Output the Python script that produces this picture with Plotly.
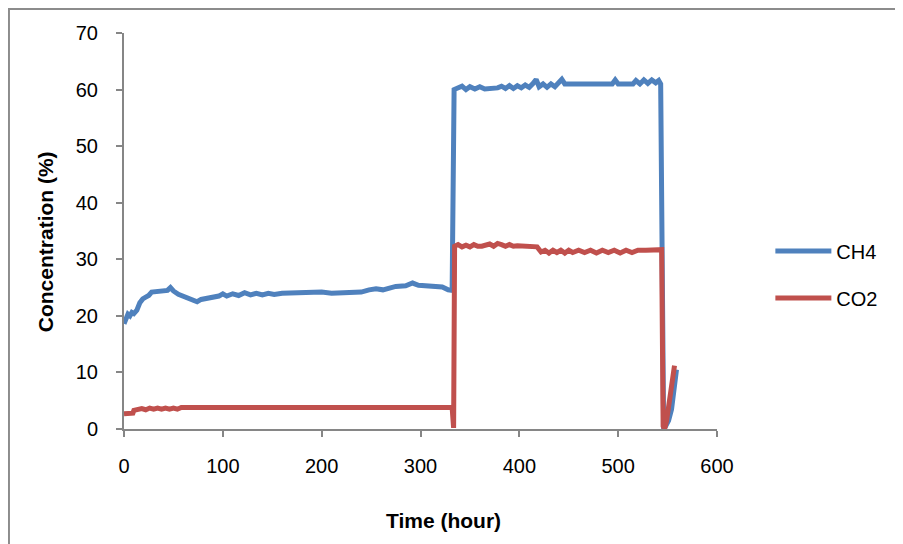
import plotly.graph_objects as go

# CH4 readings (time in hours, concentration in %)
ch4_time = [0, 2, 4, 6, 8, 10, 13, 16, 19, 22, 25, 28, 32, 36, 40, 44, 47, 50, 55, 60,
            65, 70, 74, 78, 84, 90, 96, 100, 104, 110, 116, 122, 128, 134, 140, 146, 152,
            160, 175, 190, 200, 210, 230, 240, 248, 255, 262, 268, 275, 285, 292, 298, 305,
            315, 322, 328, 332, 334, 338, 342, 346, 350, 355, 360, 365, 370, 378, 382, 386,
            390, 394, 398, 402, 406, 410, 414, 417, 420, 424, 428, 432, 436, 440, 443, 446,
            460, 480, 494, 497, 500, 515, 518, 522, 526, 530, 534, 538, 541, 543, 545, 546,
            548, 551, 554, 557, 559]
ch4_conc = [18.6, 19.5, 20.3, 20.0, 20.6, 20.4, 21.0, 22.3, 23.0, 23.3, 23.6, 24.2, 24.3,
            24.2, 24.4, 24.5, 25.0, 24.4, 23.8, 23.4, 23.0, 22.6, 22.5, 22.9, 23.1, 23.3,
            23.5, 23.9, 23.5, 23.9, 23.6, 24.1, 23.7, 24.0, 23.7, 24.0, 23.8, 24.0, 24.1,
            24.0, 24.2, 24.0, 24.0, 24.2, 24.6, 24.8, 24.6, 24.9, 25.2, 25.3, 25.8, 25.4,
            25.3, 25.3, 25.1, 24.6, 24.5, 60.0, 60.2, 60.6, 60.0, 60.5, 60.1, 60.5, 60.1,
            60.1, 60.3, 60.6, 60.2, 60.7, 60.2, 60.7, 60.3, 60.8, 60.4, 61.1, 61.8, 60.5,
            61.0, 60.4, 61.0, 60.5, 61.2, 61.8, 61.0, 61.0, 61.0, 61.0, 61.7, 61.0, 61.0,
            61.6, 61.0, 61.7, 61.1, 61.7, 61.2, 61.6, 61.0, 1.0, 0.3, 0.5, 1.5, 3.5, 8.0, 10.5]

# CO2 readings
co2_time = [0, 5, 9, 10, 14, 18, 22, 26, 30, 34, 38, 42, 46, 50, 54, 58, 100, 200, 300,
            332, 333.5, 334.5, 338, 342, 346, 350, 354, 358, 362, 366, 370, 374, 378, 382,
            386, 390, 394, 398, 403, 410, 418, 422, 426, 430, 434, 438, 442, 446, 450, 454,
            460, 466, 472, 478, 484, 490, 496, 502, 508, 514, 520, 528, 536, 544, 545.5,
            547, 549, 551, 553, 555, 556, 557]
co2_conc = [2.7, 2.7, 2.8, 3.3, 3.4, 3.6, 3.4, 3.7, 3.5, 3.7, 3.5, 3.7, 3.5, 3.7, 3.5,
            3.8, 3.8, 3.8, 3.8, 3.8, 0.2, 32.3, 32.6, 32.2, 32.5, 32.2, 32.6, 32.3, 32.3,
            32.6, 32.7, 32.3, 32.8, 32.6, 32.3, 32.6, 32.3, 32.4, 32.3, 32.3, 32.2, 31.3,
            31.6, 31.1, 31.6, 31.2, 31.6, 31.1, 31.6, 31.2, 31.6, 31.2, 31.6, 31.1, 31.6,
            31.2, 31.6, 31.1, 31.6, 31.2, 31.6, 31.6, 31.6, 31.7, 0.5, 0.0, 1.5, 4.0, 6.5,
            8.5, 10.5, 11.2]

x_ticks = [0, 100, 200, 300, 400, 500, 600]
y_ticks = [0, 10, 20, 30, 40, 50, 60, 70]

font = "Liberation Sans"
grey = "#868686"

fig = go.Figure()
fig.add_trace(go.Scatter(x=ch4_time, y=ch4_conc, mode="lines", name="CH4",
                         legendgroup="a", line=dict(color="#4F81BD", width=5)))
fig.add_trace(go.Scatter(x=co2_time, y=co2_conc, mode="lines", name="CO2",
                         legendgroup="b", line=dict(color="#C0504D", width=5)))

fig.update_xaxes(range=[0, 600], tickvals=x_ticks, showgrid=False, zeroline=False,
                 showline=True, linecolor=grey, linewidth=2, ticks="outside",
                 ticklen=6, tickcolor=grey, tickwidth=2, ticklabelstandoff=12,
                 tickfont=dict(family=font, size=20, color="#000"))
fig.update_yaxes(range=[0, 70], tickvals=y_ticks, showgrid=False, zeroline=False,
                 showline=True, linecolor=grey, linewidth=2, ticks="outside",
                 ticklen=6, tickcolor=grey, tickwidth=2, ticklabelstandoff=14,
                 tickfont=dict(family=font, size=20, color="#000"))

# axis titles as annotations so they sit where the original has them
fig.add_annotation(text="<b>Concentration (%)</b>", xref="paper", yref="paper",
                   x=-0.133, y=0.472, xanchor="center", yanchor="middle",
                   textangle=-90, showarrow=False,
                   font=dict(family=font, size=21, color="#000"))
fig.add_annotation(text="<b>Time (hour)</b>", xref="paper", yref="paper",
                   x=0.538, y=-0.230, xanchor="center", yanchor="middle",
                   showarrow=False,
                   font=dict(family=font, size=21, color="#000"))

# outer chart border (partly cut off at right and bottom in the original)
fig.add_shape(type="rect", xref="paper", yref="paper",
              x0=-0.194, x1=1.33, y0=-0.32, y1=1.0606,
              line=dict(color="#8c8c8c", width=2), layer="below")

# page body has an 8px margin, so the margins are trimmed by that much
fig.update_layout(
    width=903, height=544,
    margin=dict(l=116, r=194, t=25, b=123),
    paper_bgcolor="white", plot_bgcolor="white",
    legend=dict(x=1.09, y=0.39, xanchor="left", yanchor="middle",
                font=dict(family=font, size=20, color="#000"),
                itemwidth=56, tracegroupgap=18, bgcolor="rgba(0,0,0,0)"),
)

fig.write_html("out.html")
